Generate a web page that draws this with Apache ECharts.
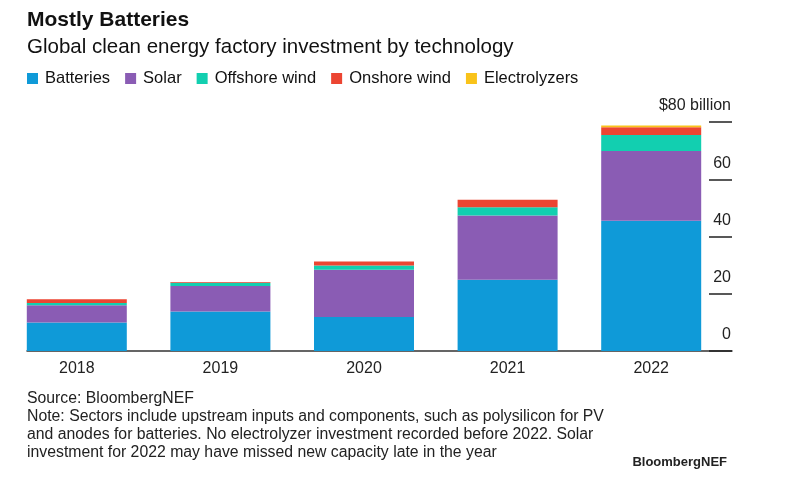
<!DOCTYPE html>
<html>
<head>
<meta charset="utf-8">
<script src="https://cdn.jsdelivr.net/npm/echarts@6/dist/echarts.min.js"></script>
<style>
html,body{margin:0;padding:0;background:#fff;}
#chart{width:800px;height:485px;}
</style>
</head>
<body>
<div id="chart"></div>
<script>
const years = ['2018', '2019', '2020', '2021', '2022'];
const batteries = [10.0, 13.8, 11.9, 24.9, 45.5];
const solar = [6.0, 8.9, 16.5, 22.4, 24.4];
const offshoreWind = [0.8, 1.1, 1.5, 2.9, 5.6];
const onshoreWind = [1.3, 0.3, 1.4, 2.6, 2.7];
const electrolyzers = [0, 0, 0, 0, 0.6];
const yTicks = [0, 20, 40, 60, 80];

const seriesNames = ['Batteries', 'Solar', 'Offshore wind', 'Onshore wind', 'Electrolyzers'];
const seriesData = [batteries, solar, offshoreWind, onshoreWind, electrolyzers];
const colors = ['#0f9ad8', '#8a5cb4', '#12cfb0', '#ec4532', '#f9c31a'];

const FONT = '"Liberation Sans", Arial, sans-serif';
const chart = echarts.init(document.getElementById('chart'), null, {renderer: 'canvas'});

const option = {
  animation: false,
  backgroundColor: '#fff',
  color: colors,
  textStyle: {fontFamily: FONT},
  title: [
    {text: 'Mostly Batteries', left: 27, top: 10, padding: 0,
     textStyle: {fontFamily: FONT, fontSize: 21, fontWeight: 'bold', color: '#111'}},
    {text: 'Global clean energy factory investment by technology', left: 27, top: 37, padding: 0,
     textStyle: {fontFamily: FONT, fontSize: 20.5, fontWeight: 'normal', color: '#111'}},
    {text: 'Source: BloombergNEF\nNote: Sectors include upstream inputs and components, such as polysilicon for PV\nand anodes for batteries. No electrolyzer investment recorded before 2022. Solar\ninvestment for 2022 may have missed new capacity late in the year',
     left: 27, top: 390, padding: 0,
     textStyle: {fontFamily: FONT, fontSize: 15.8, fontWeight: 'normal', color: '#222', lineHeight: 18}},
    {text: 'BloombergNEF', right: 73, top: 456, padding: 0,
     textStyle: {fontFamily: FONT, fontSize: 13, fontWeight: 'bold', color: '#222'}}
  ],
  legend: {
    left: 27, top: 70, padding: 0,
    icon: 'rect', itemWidth: 11, itemHeight: 11, itemGap: 15,
    textStyle: {fontFamily: FONT, fontSize: 16.5, color: '#111', padding: [0, 0, 0, 2]},
    data: seriesNames
  },
  grid: [
    {left: 5, right: 77, top: 122, bottom: 134},
    {left: 27, right: 68, top: 122, bottom: 134}
  ],
  xAxis: [
    {type: 'category', gridIndex: 0, data: years,
     axisLine: {show: false}, axisTick: {show: false},
     axisLabel: {fontFamily: FONT, fontSize: 16, color: '#222', margin: 10}},
    {type: 'category', gridIndex: 1, data: years,
     axisLine: {show: true, lineStyle: {color: '#333', width: 1.5}},
     axisTick: {show: false}, axisLabel: {show: false}}
  ],
  yAxis: [
    {type: 'value', gridIndex: 0, min: 0, max: 80, interval: 20, show: false},
    {type: 'value', gridIndex: 1, position: 'right', min: 0, max: 80, interval: 20,
     axisLine: {show: false},
     splitLine: {show: false},
     axisTick: {show: true, inside: true, length: 23, lineStyle: {color: '#222', width: 1.5}},
     axisLabel: {inside: true, margin: 1, fontFamily: FONT, fontSize: 16, color: '#222',
       verticalAlign: 'bottom', padding: [0, 0, 8, 0],
       formatter: function (v) { return v === yTicks[yTicks.length - 1] ? '$' + v + ' billion' : String(v); }}
    }
  ],
  series: seriesNames.map(function (name, i) {
    return {
      name: name, type: 'bar', stack: 'total',
      xAxisIndex: 0, yAxisIndex: 0,
      barWidth: 100,
      itemStyle: {color: colors[i]},
      data: seriesData[i]
    };
  })
};
chart.setOption(option);
</script>
</body>
</html>
